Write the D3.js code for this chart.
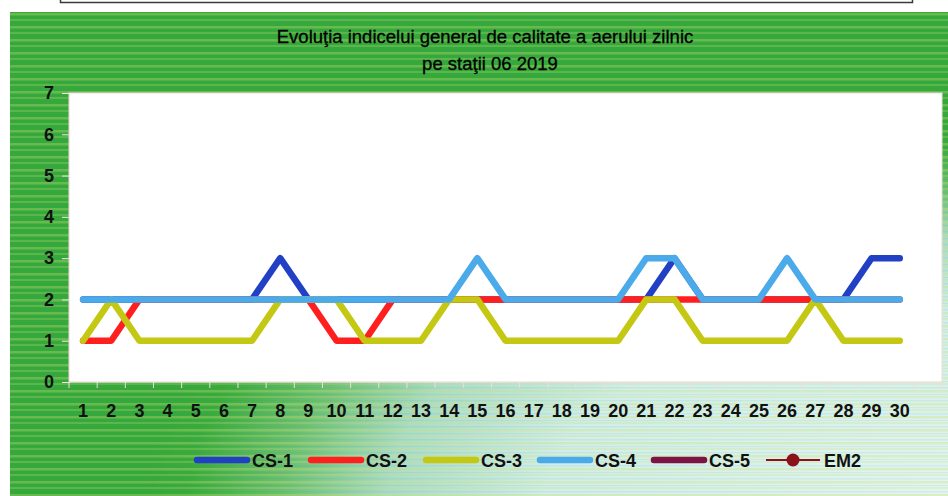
<!DOCTYPE html>
<html><head><meta charset="utf-8">
<script src="https://cdn.jsdelivr.net/npm/d3@7"></script>
<style>body{margin:0;background:#fff}svg{display:block}</style>
</head><body>
<svg id="c" width="948" height="496"></svg>
<script>
// ---- data ----
const days = ["1","2","3","4","5","6","7","8","9","10","11","12","13","14","15","16","17","18","19","20","21","22","23","24","25","26","27","28","29","30"];
const slots = days.concat([""]); // chart keeps an empty 31st category
const yTicks = [0,1,2,3,4,5,6,7];
const titleLines = ["Evoluţia indicelui general de calitate a aerului zilnic", "pe staţii 06 2019"];
const cs1 = [2,2,2,2,2,2,2,3,2,2,2,2,2,2,2,2,2,2,2,2,2,3,2,2,2,2,2,2,3,3];
const cs2 = [1,1,2,2,2,2,2,2,2,1,1,2,2,2,2,2,2,2,2,2,2,2,2,2,2,2,2,2,2,2];
const cs3 = [1,2,1,1,1,1,1,2,2,2,1,1,1,2,2,1,1,1,1,1,2,2,1,1,1,1,2,1,1,1];
const cs4 = [2,2,2,2,2,2,2,2,2,2,2,2,2,2,3,2,2,2,2,2,3,3,2,2,2,3,2,2,2,2];
const cs5 = [];
const em2 = [];
const seriesNames = ["CS-1","CS-2","CS-3","CS-4","CS-5","EM2"];
const seriesColors = ["#2140c4","#ff1f1f","#c4c812","#4aaaea","#7c1444","#8a1218"];
const seriesValues = [cs1,cs2,cs3,cs4,cs5,em2];

// ---- layout ----
const svg = d3.select("#c");
const W = 948, H = 496;
const P = {l:69, r:942, t:93, b:382};
const defs = svg.append("defs");
const rg = defs.append("radialGradient").attr("id","bg").attr("gradientUnits","userSpaceOnUse")
  .attr("cx",948).attr("cy",496).attr("r",800)
  .attr("gradientTransform","translate(948,496) scale(1,0.46) translate(-948,-496)");
[[0,"#e2f5f3"],[0.5,"#d0eeea"],[0.7,"#aadcc8"],[0.83,"#6cc074"],[0.95,"#3aab40"],[1,"#36a93e"]].forEach(s=>
  rg.append("stop").attr("offset",s[0]).attr("stop-color",s[1]));
const pat = defs.append("pattern").attr("id","stripes").attr("patternUnits","userSpaceOnUse")
  .attr("width",948).attr("height",13);
pat.append("rect").attr("x",0).attr("y",0).attr("width",948).attr("height",2.5).attr("fill","#d2dc6a").attr("opacity",0.33);
pat.append("rect").attr("x",0).attr("y",6).attr("width",948).attr("height",2).attr("fill","#d2dc6a").attr("opacity",0.25);
pat.append("rect").attr("x",0).attr("y",4).attr("width",948).attr("height",1.2).attr("fill","#1e8a2e").attr("opacity",0.08);
pat.append("rect").attr("x",0).attr("y",10).attr("width",948).attr("height",1.5).attr("fill","#1e8a2e").attr("opacity",0.08);

// top box of the page
svg.append("rect").attr("x",60.5).attr("y",-20).attr("width",852).attr("height",22.5)
  .attr("fill","#fff").attr("stroke","#3a3a3a").attr("stroke-width",1.5);

// chart area
svg.append("rect").attr("x",10).attr("y",12).attr("width",W-10).attr("height",H-12).attr("fill","url(#bg)");
svg.append("rect").attr("x",10).attr("y",12).attr("width",W-10).attr("height",H-12).attr("fill","url(#stripes)");

// plot area
svg.append("rect").attr("x",P.l).attr("y",P.t).attr("width",P.r-P.l).attr("height",P.b-P.t)
  .attr("fill","#fff").attr("stroke","#ecdcdc").attr("stroke-width",1);

const x = d3.scaleBand().domain(slots.map((d,i)=>i)).range([P.l,P.r]).padding(0);
const y = d3.scaleLinear().domain([0,7]).range([P.b,P.t]);

// title
svg.append("g").selectAll("text").data(titleLines).join("text")
  .attr("x",(d,i)=> i===0?485:490).attr("y",(d,i)=>43+i*27)
  .attr("text-anchor","middle").attr("font-family","Liberation Sans, Arial, sans-serif")
  .attr("font-size",18.5).attr("fill","#000").attr("stroke","#000").attr("stroke-width",0.3).text(d=>d);

// y axis
const yAxis = svg.append("g").attr("transform",`translate(${P.l},0)`)
  .call(d3.axisLeft(y).tickValues(yTicks).tickSize(7).tickPadding(8).tickFormat(d3.format("d")));
yAxis.select(".domain").attr("stroke","#f2e6e6");
yAxis.selectAll(".tick line").attr("stroke","#f2e6e6");
yAxis.selectAll("text").attr("font-family","Liberation Sans, Arial, sans-serif").attr("font-weight","bold")
  .attr("font-size",18).attr("fill","#111");

// x axis: ticks at category boundaries, labels centred
const xg = svg.append("g").attr("transform",`translate(0,${P.b})`);
xg.append("line").attr("x1",P.l).attr("x2",P.r).attr("stroke","#f0e0e0");
xg.selectAll("line.tk").data(slots.map((d,i)=>i).concat([slots.length])).join("line").attr("class","tk")
  .attr("x1",i=> i<slots.length? x(i): x(slots.length-1)+x.bandwidth())
  .attr("x2",i=> i<slots.length? x(i): x(slots.length-1)+x.bandwidth())
  .attr("y1",0).attr("y2",6).attr("stroke","#efdcdc");
xg.selectAll("text").data(days).join("text")
  .attr("x",(d,i)=>x(i)+x.bandwidth()/2).attr("y",35)
  .attr("text-anchor","middle").attr("font-family","Liberation Sans, Arial, sans-serif")
  .attr("font-weight","bold").attr("font-size",18).attr("fill","#111").text(d=>d);

// series
const line = d3.line().x((d,i)=>x(i)+x.bandwidth()/2).y(d=>y(d));
seriesValues.forEach((vals,k)=>{
  if(!vals.length) return;
  svg.append("path").datum(vals).attr("d",line).attr("fill","none")
    .attr("stroke",seriesColors[k]).attr("stroke-width",6.5)
    .attr("stroke-linejoin","round").attr("stroke-linecap","round");
});

// legend
const legX = [194,308,423,537,651,766];
const lg = svg.append("g").attr("transform","translate(0,460)");
seriesNames.forEach((n,k)=>{
  const g = lg.append("g").attr("transform",`translate(${legX[k]},0)`);
  if(n==="EM2"){
    g.append("line").attr("x1",0).attr("x2",54).attr("stroke",seriesColors[k]).attr("stroke-width",2.2);
    g.append("circle").attr("cx",27).attr("r",6.5).attr("fill",seriesColors[k]);
  } else {
    g.append("line").attr("x1",3).attr("x2",53).attr("stroke",seriesColors[k]).attr("stroke-width",6.5).attr("stroke-linecap","round");
  }
  g.append("text").attr("x",58).attr("y",7).attr("font-family","Liberation Sans, Arial, sans-serif")
    .attr("font-weight","bold").attr("font-size",18).attr("fill","#111").text(n);
});
</script>
</body></html>
